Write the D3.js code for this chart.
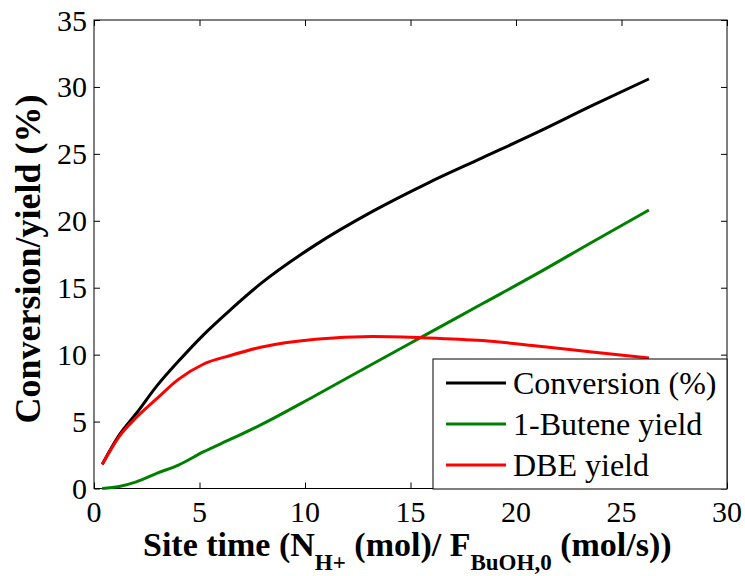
<!DOCTYPE html>
<html>
<head>
<meta charset="utf-8">
<script src="https://cdn.jsdelivr.net/npm/d3@7"></script>
</head>
<body style="margin:0">
<svg id="chart" width="745" height="576"></svg>
<script>
// Site time, N_H+ / F_BuOH,0 (mol/(mol/s))
const siteTime    = [0.39, 1.2, 2.0, 3.0, 4.0, 5.2, 6.5, 7.9, 10.5, 13.2, 15.8, 18.4, 21.0, 23.6, 26.3];
// Conversion (%)
const conversion  = [1.8, 4.0, 5.6, 7.7, 9.5, 11.5, 13.4, 15.3, 18.2, 20.7, 22.8, 24.7, 26.6, 28.6, 30.6];
// 1-Butene yield (%)
const buteneYield = [0.0, 0.15, 0.5, 1.15, 1.75, 2.75, 3.7, 4.75, 6.95, 9.3, 11.55, 13.8, 16.05, 18.4, 20.8];
// DBE yield (%)
const dbeYield    = [1.8, 3.9, 5.3, 6.75, 8.15, 9.3, 9.95, 10.55, 11.15, 11.35, 11.25, 11.05, 10.65, 10.2, 9.75];

const seriesNames  = ["Conversion (%)", "1-Butene yield", "DBE yield"];
const seriesColors = ["#000000", "#008000", "#ff0000"];
const xTicks = [0, 5, 10, 15, 20, 25, 30];
const yTicks = [0, 5, 10, 15, 20, 25, 30, 35];

const FONT = "Liberation Serif";

const svg = d3.select("#chart");
const plot = { left: 94, right: 727, top: 20, bottom: 488.5 };

const x = d3.scaleLinear().domain([0, 30]).range([plot.left, plot.right]);
const y = d3.scaleLinear().domain([0, 35]).range([plot.bottom, plot.top]);

// Tick marks only (inward, all four sides); labels are drawn as plain text below
const tickLen = 6;
const axisB = d3.axisBottom(x).tickValues(xTicks).tickSizeInner(-tickLen).tickSizeOuter(0).tickFormat("");
const axisT = d3.axisTop(x).tickValues(xTicks).tickSizeInner(-tickLen).tickSizeOuter(0).tickFormat("");
const axisL = d3.axisLeft(y).tickValues(yTicks).tickSizeInner(-tickLen).tickSizeOuter(0).tickFormat("");
const axisR = d3.axisRight(y).tickValues(yTicks).tickSizeInner(-tickLen).tickSizeOuter(0).tickFormat("");

function styleAxis(g) {
  g.select(".domain").remove();
  g.selectAll("text").remove();
  g.selectAll("line").attr("stroke", "#000").attr("stroke-width", 1);
}

svg.append("g").attr("transform", `translate(0,${plot.bottom})`).call(axisB).call(styleAxis);
svg.append("g").attr("transform", `translate(0,${plot.top})`).call(axisT).call(styleAxis);
svg.append("g").attr("transform", `translate(${plot.left},0)`).call(axisL).call(styleAxis);
svg.append("g").attr("transform", `translate(${plot.right},0)`).call(axisR).call(styleAxis);

// Tick labels
xTicks.forEach(t => {
  svg.append("text")
    .attr("x", x(t)).attr("y", 522)
    .attr("text-anchor", "middle")
    .style("font-family", FONT)
    .attr("font-size", 30)
    .text(t);
});
yTicks.forEach(t => {
  svg.append("text")
    .attr("x", 87).attr("y", y(t) + 10.5)
    .attr("text-anchor", "end")
    .style("font-family", FONT)
    .attr("font-size", 30)
    .text(t);
});

// Plot frame
svg.append("rect")
  .attr("x", plot.left).attr("y", plot.top)
  .attr("width", plot.right - plot.left).attr("height", plot.bottom - plot.top)
  .attr("fill", "none").attr("stroke", "#000").attr("stroke-width", 1);

// Curves
const seriesValues = [conversion, buteneYield, dbeYield];
const line = d3.line()
  .x(d => x(d[0]))
  .y(d => y(d[1]))
  .curve(d3.curveMonotoneX);

seriesValues.forEach((vals, i) => {
  svg.append("path")
    .datum(siteTime.map((t, j) => [t, vals[j]]))
    .attr("d", line)
    .attr("fill", "none")
    .attr("stroke", seriesColors[i])
    .attr("stroke-width", 3)
    .attr("stroke-linejoin", "round");
});

// Legend
svg.append("rect")
  .attr("x", 433).attr("y", 359).attr("width", 294).attr("height", 130)
  .attr("fill", "#fff").attr("stroke", "#000").attr("stroke-width", 1);
seriesNames.forEach((name, i) => {
  const ly = 383 + i * 41;
  svg.append("line")
    .attr("x1", 446).attr("x2", 506).attr("y1", ly).attr("y2", ly)
    .attr("stroke", seriesColors[i]).attr("stroke-width", 3);
  svg.append("text")
    .attr("x", 513).attr("y", ly + 11)
    .style("font-family", FONT)
    .attr("font-size", 32)
    .text(name);
});

// Axis titles
const xTitle = svg.append("text")
  .attr("x", 143).attr("y", 556)
  .style("font-family", FONT)
  .attr("font-size", 34).attr("font-weight", "bold");
xTitle.append("tspan").text("Site time (N");
xTitle.append("tspan").attr("font-size", 23).attr("dy", 14).text("H+");
xTitle.append("tspan").attr("dy", -14).text(" (mol)/ F");
xTitle.append("tspan").attr("font-size", 23).attr("dy", 14).text("BuOH,0");
xTitle.append("tspan").attr("dy", -14).text(" (mol/s))");

svg.append("text")
  .attr("transform", "translate(40,259) rotate(-90)")
  .attr("text-anchor", "middle")
  .style("font-family", FONT)
  .attr("font-size", 36).attr("font-weight", "bold")
  .text("Conversion/yield (%)");
</script>
</body>
</html>
